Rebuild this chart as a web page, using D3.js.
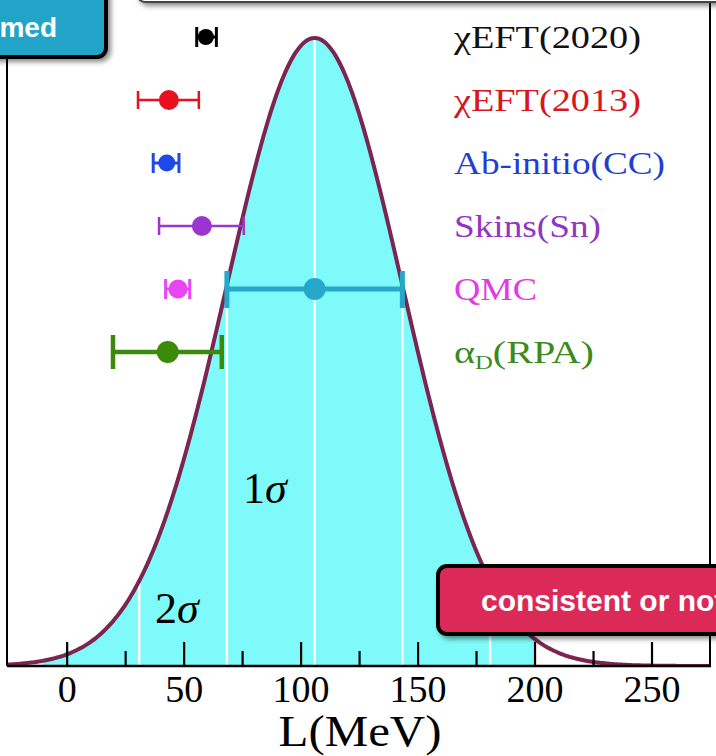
<!DOCTYPE html>
<html>
<head>
<meta charset="utf-8">
<script src="https://cdn.jsdelivr.net/npm/d3@7"></script>
<style>
  html, body { margin: 0; padding: 0; background: #fff; }
  svg { display: block; }
</style>
</head>
<body>
<svg id="chart" width="716" height="756"></svg>
<script>
// ---------- data ----------
const models = ["χEFT(2020)", "χEFT(2013)", "Ab-initio(CC)", "Skins(Sn)", "QMC", "αD(RPA)"];
const centers = [59.5, 43.7, 42.8, 57.8, 47.6, 43.2];
const lows    = [55.6, 30.5, 37.0, 39.5, 42.3, 19.8];
const highs   = [64.0, 56.5, 48.0, 75.7, 52.6, 66.3];
const colors  = ["#000000", "#e8101c", "#1f48e6", "#9a35d0", "#e845f5", "#3b8a0a"];
const textColors = ["#111111", "#d8161e", "#1f3fd4", "#9036c4", "#e23ae6", "#3b8a1c"];
const prexMean = 106, prexLow = 68.5, prexHigh = 143.5;   // PREX-II
const gaussMean = 106, gaussSigma = 37.5;
const sigmaMarks = [-2, -1, 0, 1, 2];
const majorTicks = [0, 50, 100, 150, 200, 250];
const minorTicks = [25, 75, 125, 175, 225];
const xLabel = "L(MeV)";

// ---------- layout ----------
const svg = d3.select("#chart");
const left = 7, right = 710, axisY = 666, peakY = 38;
const x = d3.scaleLinear().domain([-25.5, 275]).range([left, right]);
const yd = d3.scaleLinear().domain([0, 1]).range([axisY, peakY]);
const yRow = d3.scalePoint().domain(models).range([37, 352]);

const defs = svg.append("defs");
defs.append("clipPath").attr("id", "plotclip")
  .append("rect").attr("x", left).attr("y", 0).attr("width", right - left).attr("height", axisY);
const sh = defs.append("filter").attr("id", "shadow")
  .attr("x", "-20%").attr("y", "-20%").attr("width", "140%").attr("height", "160%");
sh.append("feDropShadow").attr("dx", 3).attr("dy", 3).attr("stdDeviation", 2.5)
  .attr("flood-color", "#000").attr("flood-opacity", 0.45);

const gauss = L => Math.exp(-0.5 * Math.pow((L - gaussMean) / gaussSigma, 2));
const curvePts = d3.range(-26, 276, 1);
const fillPts = d3.range(-10, 200.5, 0.5);

const plot = svg.append("g").attr("clip-path", "url(#plotclip)");

// cyan fill
plot.append("path")
  .datum(fillPts)
  .attr("d", d3.area().x(d => x(d)).y0(axisY).y1(d => yd(gauss(d))))
  .attr("fill", "#7ffafa");

// white sigma lines
plot.selectAll("line.sig").data(sigmaMarks).join("line")
  .attr("class", "sig")
  .attr("x1", d => x(gaussMean + d * gaussSigma)).attr("x2", d => x(gaussMean + d * gaussSigma))
  .attr("y1", d => yd(gauss(gaussMean + d * gaussSigma))).attr("y2", axisY)
  .attr("stroke", "#fff").attr("stroke-width", 2.5);

// gaussian curve
plot.append("path")
  .datum(curvePts)
  .attr("d", d3.line().x(d => x(d)).y(d => yd(gauss(d))).curve(d3.curveBasis))
  .attr("fill", "none").attr("stroke", "#7b2550").attr("stroke-width", 4);

// axis
const axG = svg.append("g").attr("transform", `translate(0,${axisY})`);
axG.call(d3.axisBottom(x).tickValues(majorTicks).tickSizeInner(-24).tickSizeOuter(0).tickFormat(d3.format("d")));
axG.select(".domain").remove();
axG.selectAll(".tick line").attr("stroke", "#000").attr("stroke-width", 2.2);
axG.selectAll(".tick text")
  .attr("y", 36).attr("dy", 0)
  .attr("font-family", "'Liberation Serif', 'Times New Roman', serif")
  .attr("font-size", 38).attr("fill", "#000");
const minG = svg.append("g").attr("transform", `translate(0,${axisY})`);
minG.call(d3.axisBottom(x).tickValues(minorTicks).tickSizeInner(-15).tickSizeOuter(0).tickFormat(""));
minG.select(".domain").remove();
minG.selectAll(".tick line").attr("stroke", "#000").attr("stroke-width", 2.2);

// frame
svg.append("line").attr("x1", left).attr("x2", right + 1).attr("y1", axisY).attr("y2", axisY)
  .attr("stroke", "#000").attr("stroke-width", 2.5);
svg.append("line").attr("x1", left).attr("x2", left).attr("y1", 0).attr("y2", axisY)
  .attr("stroke", "#000").attr("stroke-width", 2);
svg.append("line").attr("x1", right).attr("x2", right).attr("y1", 0).attr("y2", axisY)
  .attr("stroke", "#000").attr("stroke-width", 2);

// x label
svg.append("text").attr("x", 360).attr("y", 746).attr("text-anchor", "middle")
  .attr("font-family", "'Liberation Serif', 'Times New Roman', serif")
  .attr("font-size", 45).attr("fill", "#000")
  .attr("textLength", 163).attr("lengthAdjust", "spacingAndGlyphs").text(xLabel);

// sigma labels
const serif = "'Liberation Serif', 'DejaVu Serif', serif";
function sigLabel(tx, ty, n) {
  const t = svg.append("text").attr("x", tx).attr("y", ty)
    .attr("font-family", serif).attr("font-size", 44).attr("fill", "#000");
  t.append("tspan").text(n);
  t.append("tspan").attr("font-style", "italic").text("σ");
}
sigLabel(243, 503, "1");
sigLabel(155, 623, "2");

// model error bars
const widths = [3, 2.5, 3, 2.5, 3, 4.5];
const capH = [20, 18, 20, 18, 20, 34];
const radii = [8, 10, 8.5, 10, 9.5, 11];
const eb = svg.append("g");
models.forEach((m, i) => {
  const g = eb.append("g");
  const yy = yRow(m);
  g.append("line").attr("x1", x(lows[i])).attr("x2", x(highs[i])).attr("y1", yy).attr("y2", yy)
    .attr("stroke", colors[i]).attr("stroke-width", widths[i]);
  [lows[i], highs[i]].forEach(v => {
    g.append("line").attr("x1", x(v)).attr("x2", x(v))
      .attr("y1", yy - capH[i] / 2).attr("y2", yy + capH[i] / 2)
      .attr("stroke", colors[i]).attr("stroke-width", widths[i]);
  });
  g.append("circle").attr("cx", x(centers[i])).attr("cy", yy).attr("r", radii[i]).attr("fill", colors[i]);
});

// PREX-II bar
const prexY = yRow("QMC");
const pg = svg.append("g");
pg.append("line").attr("x1", x(prexLow)).attr("x2", x(prexHigh)).attr("y1", prexY).attr("y2", prexY)
  .attr("stroke", "#26a8cb").attr("stroke-width", 5);
[prexLow, prexHigh].forEach(v => {
  pg.append("line").attr("x1", x(v)).attr("x2", x(v)).attr("y1", prexY - 18).attr("y2", prexY + 19)
    .attr("stroke", "#26a8cb").attr("stroke-width", 5);
});
pg.append("circle").attr("cx", x(prexMean)).attr("cy", prexY).attr("r", 11).attr("fill", "#26a8cb");

// legend texts
const legLens = [187, 187, 211, 147, 83, 140];
models.forEach((m, i) => {
  const t = svg.append("text").attr("x", 454).attr("y", yRow(m) + 11)
    .attr("font-family", serif).attr("font-size", 31).attr("fill", textColors[i])
    .attr("textLength", legLens[i]).attr("lengthAdjust", "spacingAndGlyphs");
  if (m.startsWith("αD")) {
    t.append("tspan").text("α");
    t.append("tspan").attr("font-size", 19).attr("dy", 6).text("D");
    t.append("tspan").attr("dy", -6).text("(RPA)");
  } else {
    t.text(m);
  }
});

// overlay callout boxes
svg.append("rect").attr("x", 137).attr("y", -60).attr("width", 640).attr("height", 62).attr("rx", 8)
  .attr("fill", "#fff").attr("stroke", "#444").attr("stroke-width", 2).attr("filter", "url(#shadow)");
const b1 = svg.append("g");
b1.append("rect").attr("x", -20).attr("y", -20).attr("width", 126).attr("height", 77).attr("rx", 9)
  .attr("fill", "#23a4c8").attr("stroke", "#000").attr("stroke-width", 4).attr("filter", "url(#shadow)");
b1.append("text").attr("x", 57).attr("y", 37).attr("text-anchor", "end")
  .attr("font-family", "'Liberation Sans', Arial, sans-serif").attr("font-weight", "bold")
  .attr("font-size", 28).attr("fill", "#fff").text("med");
const b2 = svg.append("g");
b2.append("rect").attr("x", 438).attr("y", 566).attr("width", 320).attr("height", 68).attr("rx", 9)
  .attr("fill", "#dc2958").attr("stroke", "#000").attr("stroke-width", 4).attr("filter", "url(#shadow)");
b2.append("text").attr("x", 481).attr("y", 611)
  .attr("font-family", "'Liberation Sans', Arial, sans-serif").attr("font-weight", "bold")
  .attr("font-size", 30).attr("fill", "#fff").text("consistent or not");
</script>
</body>
</html>
